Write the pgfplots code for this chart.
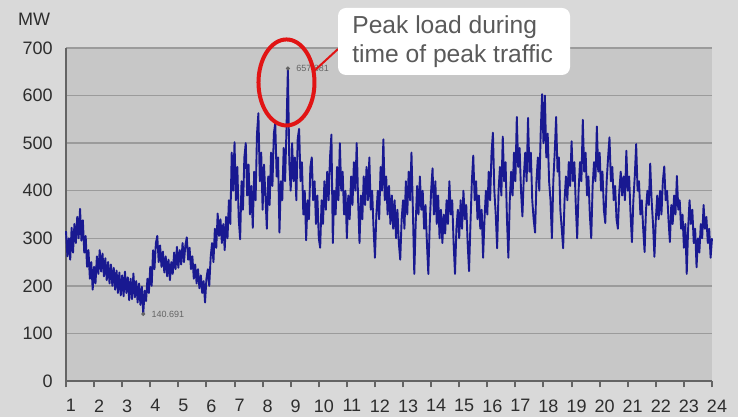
\documentclass[border=0pt]{standalone}
\usepackage{pgfplots}
\pgfplotsset{compat=1.18}
\usepackage{fontspec}
\setmainfont{Liberation Sans}
\definecolor{outerbg}{RGB}{217,217,217}
\definecolor{plotbg}{RGB}{199,199,199}
\definecolor{gridc}{RGB}{155,155,155}
\definecolor{axisc}{RGB}{100,100,100}
\definecolor{navy}{RGB}{25,25,145}
\definecolor{txt}{RGB}{45,45,45}
\definecolor{calltxt}{RGB}{90,90,90}
\definecolor{callred}{RGB}{225,20,20}
\begin{document}
\begin{tikzpicture}
\fill[outerbg] (0,0) rectangle (369pt,208.5pt);
\useasboundingbox (0,0) rectangle (369pt,208.5pt);
\begin{axis}[
  at={(33pt,18pt)}, anchor=south west,
  scale only axis, width=323pt, height=166.5pt,
  xmin=1, xmax=24, ymin=0, ymax=700,
  xtick={1,...,24}, ytick={0,100,...,700},
  axis background/.style={fill=plotbg},
  axis x line*=bottom, axis y line*=left,
  axis line style={draw=axisc, line width=1.3pt, -},
  ymajorgrids, grid style={draw=gridc, line width=0.7pt},
  x tick style={draw=axisc, line width=1pt}, tick align=outside,
  major tick length=3.2pt,
  y tick style={draw=none},
  ticklabel style={font=\fontsize{9}{10}\selectfont, text=txt},
  xticklabel style={xshift=2.5pt, yshift=-2.5pt},
  /pgf/number format/assume math mode=true,
  clip=false,
]
\addplot[navy, line width=0.95pt, line join=round] table {
x y
1.00 315
1.05 262
1.10 300
1.15 255
1.20 322
1.25 270
1.30 330
1.35 290
1.40 345
1.45 300
1.50 362
1.55 295
1.60 338
1.65 270
1.70 305
1.75 240
1.80 275
1.85 215
1.90 250
1.95 192
2.00 240
2.05 205
2.10 262
2.15 225
2.20 275
2.25 230
2.30 268
2.35 220
2.40 258
2.45 212
2.50 250
2.55 205
2.60 245
2.65 200
2.70 238
2.75 192
2.80 232
2.85 185
2.90 228
2.95 180
3.00 222
3.05 178
3.10 230
3.15 185
3.20 218
3.25 170
3.30 215
3.35 172
3.40 226
3.45 176
3.50 210
3.55 165
3.60 205
3.65 160
3.70 198
3.75 140.7
3.80 190
3.85 168
3.90 215
3.95 185
4.00 240
4.05 200
4.10 275
4.15 235
4.20 290
4.25 305
4.30 250
4.35 285
4.40 240
4.45 272
4.50 228
4.55 262
4.60 220
4.65 255
4.70 212
4.75 250
4.80 225
4.85 270
4.90 235
4.95 282
5.00 238
5.05 275
5.10 245
5.15 290
5.20 250
5.25 285
5.30 302
5.35 255
5.40 280
5.45 235
5.50 262
5.55 215
5.60 245
5.65 205
5.70 235
5.75 195
5.80 222
5.85 185
5.90 210
5.95 165
6.00 215
6.05 235
6.10 200
6.15 260
6.20 290
6.25 250
6.30 320
6.35 280
6.40 352
6.45 305
6.50 340
6.55 290
6.60 330
6.65 275
6.70 345
6.75 300
6.80 380
6.85 330
6.90 480
6.95 400
7.00 502
7.05 380
7.10 450
7.15 340
7.20 298
7.25 420
7.30 360
7.35 470
7.40 500
7.45 390
7.50 455
7.55 350
7.60 410
7.65 322
7.70 440
7.75 380
7.80 520
7.85 563
7.90 420
7.95 480
8.00 360
8.05 455
8.10 390
8.15 320
8.20 430
8.25 370
8.30 480
8.35 410
8.40 520
8.45 542
8.50 430
8.55 470
8.60 312
8.65 420
8.70 380
8.75 490
8.80 420
8.85 530
8.90 657
8.95 460
9.00 400
9.05 500
9.10 420
9.15 470
9.20 380
9.25 510
9.30 530
9.35 420
9.40 460
9.45 350
9.50 400
9.55 296
9.60 380
9.65 340
9.70 450
9.75 470
9.80 380
9.85 420
9.90 330
9.95 390
10.00 300
10.05 280
10.10 380
10.15 330
10.20 420
10.25 360
10.30 440
10.35 380
10.40 470
10.45 518
10.50 290
10.55 400
10.60 350
10.65 450
10.70 380
10.75 500
10.80 400
10.85 440
10.90 350
10.95 400
11.00 300
11.05 390
11.10 340
11.15 430
11.20 370
11.25 460
11.30 400
11.35 500
11.40 380
11.45 290
11.50 390
11.55 340
11.60 430
11.65 370
11.70 450
11.75 380
11.80 470
11.85 360
11.90 400
11.95 320
12.00 259
12.05 350
12.10 400
12.15 340
12.20 450
12.25 400
12.30 508
12.35 380
12.40 430
12.45 350
12.50 410
12.55 330
12.60 390
12.65 320
12.70 380
12.75 300
12.80 360
12.85 290
12.90 255
12.95 340
13.00 380
13.05 320
13.10 420
13.15 350
13.20 440
13.25 380
13.30 480
13.35 360
13.40 225
13.45 330
13.50 410
13.55 350
13.60 430
13.65 360
13.70 400
13.75 320
13.80 370
13.85 290
13.90 225
13.95 330
14.00 400
14.05 447
14.10 350
14.15 420
14.20 330
14.25 390
14.30 300
14.35 360
14.40 290
14.45 350
14.50 310
14.55 380
14.60 330
14.65 420
14.70 350
14.75 380
14.80 290
14.85 225
14.90 320
14.95 360
15.00 300
15.05 380
15.10 320
15.15 400
15.20 340
15.25 370
15.30 290
15.35 231
15.40 330
15.45 420
15.50 474
15.55 380
15.60 420
15.65 340
15.70 390
15.75 320
15.80 360
15.85 259
15.90 340
15.95 400
16.00 350
16.05 440
16.10 380
16.15 480
16.20 522
16.25 400
16.30 350
16.35 279
16.40 400
16.45 450
16.50 390
16.55 514
16.60 420
16.65 460
16.70 340
16.75 259
16.80 380
16.85 440
16.90 390
16.95 480
17.00 420
17.05 555
17.10 450
17.15 490
17.20 400
17.25 346
17.30 430
17.35 480
17.40 420
17.45 553
17.50 440
17.55 480
17.60 380
17.65 340
17.70 312
17.75 420
17.80 470
17.85 400
17.90 520
17.95 603
18.00 500
18.05 600
18.10 470
18.15 520
18.20 420
18.25 380
18.30 300
18.35 420
18.40 480
18.45 555
18.50 440
18.55 470
18.60 360
18.65 320
18.70 279
18.75 380
18.80 430
18.85 380
18.90 460
18.95 410
19.00 504
19.05 420
19.10 460
19.15 370
19.20 300
19.25 400
19.30 460
19.35 420
19.40 549
19.45 440
19.50 480
19.55 390
19.60 430
19.65 350
19.70 300
19.75 410
19.80 460
19.85 420
19.90 535
19.95 440
20.00 480
20.05 400
20.10 440
20.15 360
20.20 332
20.25 420
20.30 470
20.35 512
20.40 420
20.45 450
20.50 380
20.55 410
20.60 340
20.65 320
20.70 400
20.75 440
20.80 390
20.85 430
20.90 380
20.95 484
21.00 400
21.05 430
21.10 350
21.15 292
21.20 380
21.25 430
21.30 498
21.35 400
21.40 420
21.45 350
21.50 380
21.55 320
21.60 271
21.65 360
21.70 400
21.75 370
21.80 457
21.85 380
21.90 330
21.95 261
22.00 340
22.05 390
22.10 340
22.15 400
22.20 350
22.25 420
22.30 451
22.35 380
22.40 400
22.45 340
22.50 292
22.55 370
22.60 330
22.65 390
22.70 350
22.75 431
22.80 360
22.85 380
22.90 320
22.95 350
23.00 280
23.05 330
23.10 225
23.15 320
23.20 380
23.25 330
23.30 360
23.35 290
23.40 320
23.45 239
23.50 300
23.55 270
23.60 330
23.65 300
23.70 370
23.75 320
23.80 345
23.85 290
23.90 320
23.95 259
24.00 300
};
\addplot[only marks, mark=*, mark size=0.8pt, color=axisc] coordinates {(3.75,140.7) (8.9,657)};
\node[anchor=west, font=\fontsize{4.5}{5}\selectfont, text=axisc] at (axis cs:3.8,140.7) {140.691};
\node[anchor=west, font=\fontsize{4.5}{5}\selectfont, text=axisc] at (axis cs:8.95,657) {657.881};
\coordinate (E) at (axis cs:8.85,657);
\end{axis}
\node[font=\fontsize{9}{10}\selectfont, text=txt] at (17pt,199pt) {MW};
\draw[callred, line width=2pt] ([yshift=-7pt]E) ellipse [x radius=14pt, y radius=21.5pt];
\draw[callred, line width=1pt] ([shift={(13pt,-2pt)}]E) -- (169pt,184pt);
\fill[white, rounded corners=4pt] (169pt,171pt) rectangle (285pt,204.5pt);
\node[anchor=west, align=left, text=calltxt, font=\fontsize{12.3}{14.5}\selectfont, inner sep=0pt] at (176pt,187.5pt) {Peak load during\\time of peak traffic};
\end{tikzpicture}
\end{document}
